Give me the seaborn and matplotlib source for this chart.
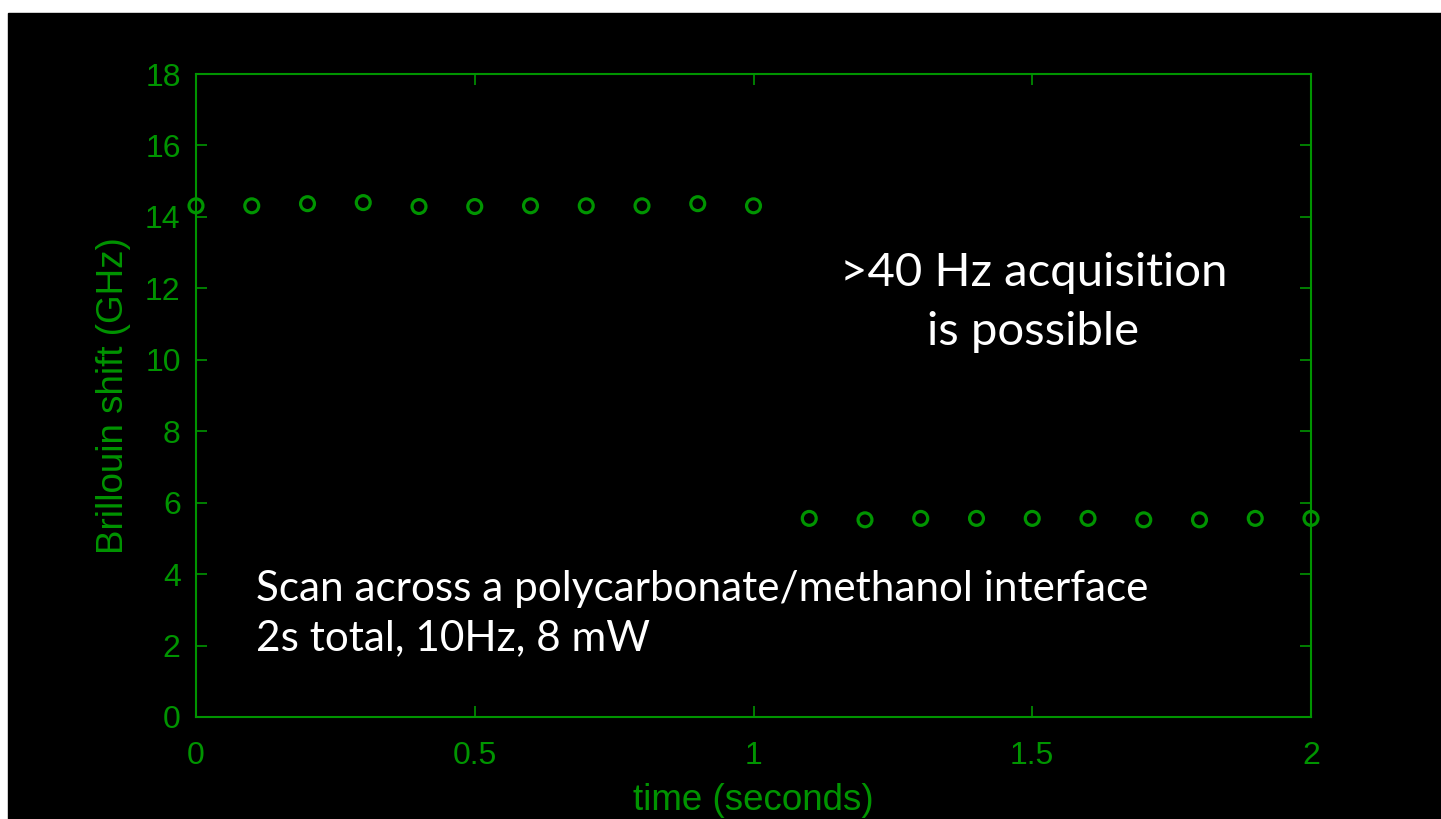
import numpy as np
import pandas as pd
import seaborn as sns
import matplotlib.pyplot as plt
from matplotlib.patches import Rectangle

# Brillouin shift scan
time_s = [0.0, 0.1, 0.2, 0.3, 0.4, 0.5, 0.6, 0.7, 0.8, 0.9, 1.0,
          1.1, 1.2, 1.3, 1.4, 1.5, 1.6, 1.7, 1.8, 1.9, 2.0]
shift_ghz = [14.31, 14.31, 14.37, 14.40, 14.29, 14.29, 14.31, 14.31, 14.31, 14.37, 14.31,
             5.56, 5.52, 5.56, 5.56, 5.56, 5.56, 5.52, 5.52, 5.56, 5.56]
x_ticks = [0, 0.5, 1, 1.5, 2]
x_labels = ["0", "0.5", "1", "1.5", "2"]
y_ticks = [0, 2, 4, 6, 8, 10, 12, 14, 16, 18]

df = pd.DataFrame({"time": time_s, "shift": shift_ghz})

green = "#009400"
sns.set_style("ticks")
plt.rcParams["font.family"] = ["Liberation Sans", "DejaVu Sans"]

fig = plt.figure(figsize=(14.41, 8.19), dpi=100, facecolor="white")
# black slide area (white margin on top and left)
fig.add_artist(Rectangle((8 / 1441, 0), 1 - 8 / 1441, 1 - 13 / 819,
                         transform=fig.transFigure, color="black", zorder=-5))
ax = fig.add_axes([196 / 1441, 102 / 819, 1115 / 1441, 643 / 819])
ax.set_facecolor("black")

sns.scatterplot(data=df, x="time", y="shift", ax=ax, marker="o", s=100,
                facecolor="none", edgecolor=green, linewidth=2.3, clip_on=False, zorder=5)

ax.set_xlim(0, 2)
ax.set_ylim(0, 18)
ax.set_xticks(x_ticks)
ax.set_xticklabels(x_labels)
ax.set_yticks(y_ticks)
for s in ax.spines.values():
    s.set_color(green)
    s.set_linewidth(1.5)
ax.tick_params(direction="in", length=8, width=1.2, color=green, labelcolor=green,
               labelsize=23, top=True, right=True)
ax.tick_params(axis="x", pad=17)
ax.tick_params(axis="y", pad=11)
ax.set_xlabel("time (seconds)", color=green, fontsize=26.5, labelpad=9)
ax.set_ylabel("Brillouin shift (GHz)", color=green, fontsize=26.5, labelpad=10)

ax.text(0.054, 0.104, "Scan across a polycarbonate/methanol interface\n2s total, 10Hz, 8 mW",
        transform=ax.transAxes, color="white", fontsize=30.4, family=["Lato", "DejaVu Sans"],
        ha="left", va="baseline", linespacing=1.37)
ax.text(0.751, 0.5785, ">40 Hz acquisition\nis possible",
        transform=ax.transAxes, color="white", fontsize=34, family=["Lato", "DejaVu Sans"],
        ha="center", va="baseline", multialignment="center", linespacing=1.5)

fig.savefig("out.png", dpi=100, facecolor=fig.get_facecolor())
